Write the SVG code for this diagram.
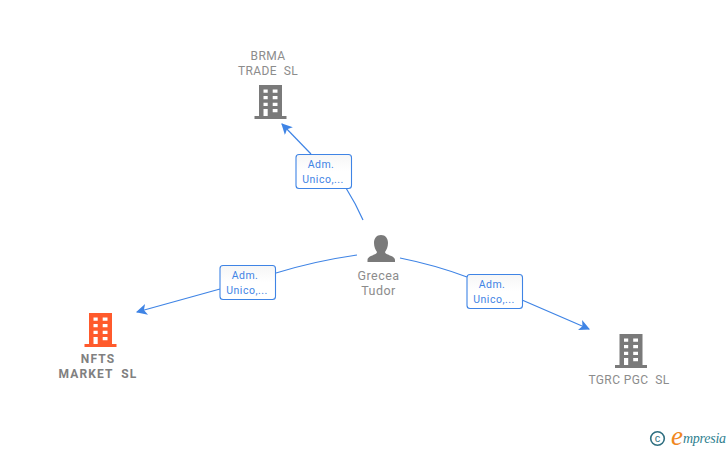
<svg xmlns="http://www.w3.org/2000/svg" width="728" height="450" viewBox="0 0 728 450">
<defs>
<marker id="arrow" viewBox="0 0 10 10" refX="9" refY="5" markerWidth="11" markerHeight="11" markerUnits="userSpaceOnUse" orient="auto"><path d="M0,0L10,5L0,10L2.500,5Z" fill="#3f84e5"/></marker>
<linearGradient id="boxfill" x1="0" y1="0" x2="0" y2="1"><stop offset="0" stop-color="#f6f6f6"/><stop offset="0.5" stop-color="#fff"/></linearGradient>
<g id="building"><path d="M-11.500,-17H11.500V14H-11.500Z M-7,-12.500V-9.300H-2.800V-12.500Z M2.200,-12.500V-9.300H7V-12.500Z M-7,-6V-2.700H-2.800V-6Z M2.200,-6V-2.700H7V-6Z M-7,0.700V4H-2.800V0.700Z M2.200,0.700V4H7V0.700Z M-7,7V14H-2.800V7Z M2.200,7V10.300H7V7Z" fill-rule="evenodd"/><rect x="-16" y="14" width="32" height="3"/></g>
</defs>
<style>
.lbl{font-family:Roboto,"Liberation Sans",sans-serif;font-size:12px;letter-spacing:.4px;fill:#8c8c8c;text-anchor:middle;white-space:pre}
.bold{font-weight:bold;fill:#808080;letter-spacing:1.1px}
.edge{font-family:Roboto,"Liberation Sans",sans-serif;font-size:10.500px;letter-spacing:.5px;fill:#3f84e5;text-anchor:middle}
.box{fill:url(#boxfill);stroke:#3f84e5;stroke-width:1.1}
.line{fill:none;stroke:#3f84e5;stroke-width:1.2}
</style>
<g id="connectors">
<path class="line" d="M363,220Q356,204 346,188"/>
<path class="line" d="M311,154L282,124" marker-end="url(#arrow)"/>
<path class="line" d="M357,255Q315,261 276,273"/>
<path class="line" d="M220,289L137,312" marker-end="url(#arrow)"/>
<path class="line" d="M400,258Q435,265 467,277"/>
<path class="line" d="M522,300L589,329" marker-end="url(#arrow)"/>
</g>
<g id="edge-brma"><rect class="box" x="296" y="154.500" width="55.500" height="34" rx="3"/><text class="edge" x="321" y="168">Adm.</text><text class="edge" x="323" y="183">Unico,...</text></g>
<g id="edge-nfts"><rect class="box" x="220" y="265.500" width="55.500" height="34" rx="3"/><text class="edge" x="245" y="279">Adm.</text><text class="edge" x="247" y="294">Unico,...</text></g>
<g id="edge-tgrc"><rect class="box" x="467" y="274.500" width="55.500" height="34" rx="3"/><text class="edge" x="492" y="288">Adm.</text><text class="edge" x="494" y="303">Unico,...</text></g>
<g id="node-brma"><text class="lbl" x="268" y="60">BRMA</text><text class="lbl" x="268" y="75">TRADE  SL</text><use href="#building" x="270.500" y="102" fill="#7a7a7a"/></g>
<g id="node-nfts"><use href="#building" x="100.500" y="330" fill="#ff5a2c"/><text class="lbl bold" x="98" y="363">NFTS</text><text class="lbl bold" x="98" y="378">MARKET  SL</text></g>
<g id="node-tgrc"><use href="#building" x="631" y="351" fill="#7a7a7a"/><text class="lbl" x="629" y="384">TGRC PGC  SL</text></g>
<g id="node-grecea"><path fill="#7a7a7a" d="M381,235C385.500,235 388,238.500 388,243C388,247 386.500,250 385,252C385,255 395,255.500 395,260V262H367.500V260C367.500,255.500 377,255 377,252C375.500,250 374,247 374,243C374,238.500 376.500,235 381,235Z"/><text class="lbl" style="font-size:12.500px;letter-spacing:.5px" x="378.500" y="280">Grecea</text><text class="lbl" style="font-size:12.500px;letter-spacing:.5px" x="378.500" y="295">Tudor</text></g>
<g id="brand"><circle cx="657.500" cy="438.500" r="6.800" fill="none" stroke="#2f6f80" stroke-width="1.600"/><text x="657.500" y="442" font-family="Liberation Sans,sans-serif" font-size="11" fill="#2f6f80" text-anchor="middle">c</text><text x="671" y="445" font-family="Liberation Serif,serif" font-style="italic" font-size="27" fill="#f0871e">e</text><text x="683" y="443" font-family="Liberation Serif,serif" font-style="italic" font-size="14" textLength="43" fill="#2f7f8f">mpresia</text></g>
</svg>
